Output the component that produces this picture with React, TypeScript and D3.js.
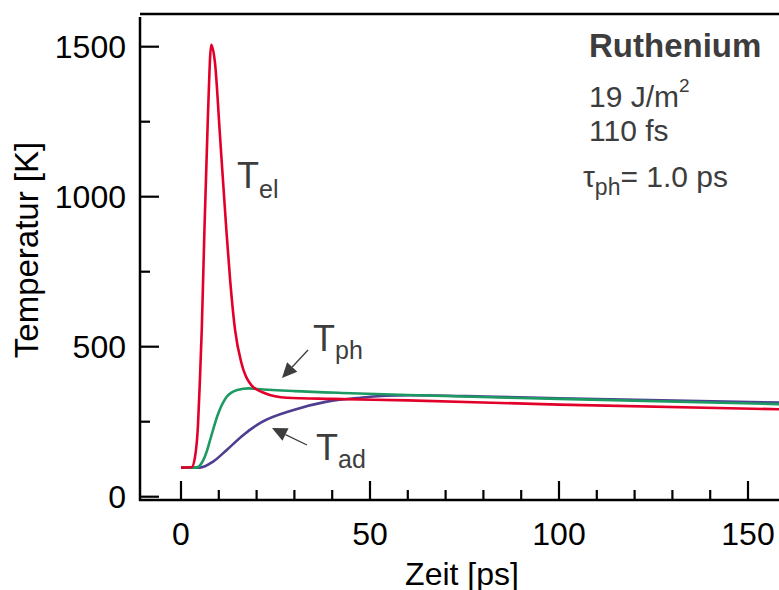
import * as d3 from 'd3'

// Zeit [ps] / Temperatur [K]
const elTime = [0, 2.8, 3.7, 4.5, 5.0, 5.5, 6.2, 7.1, 8.0, 9.0, 10.3, 12.0, 13.0, 14.3, 16.0, 18.6, 22.2, 28, 40, 60, 100, 160]
const elTemp = [97, 98, 132, 240, 389, 560, 889, 1261, 1506, 1445, 1206, 889, 722, 556, 445, 372, 345, 330, 326, 321, 307, 291]

const phTime = [0, 4.0, 5.9, 6.8, 7.7, 9.9, 12.1, 14.9, 18, 20.1, 30, 45, 60, 100, 160]
const phTemp = [97, 97, 122, 150, 189, 279, 333, 356, 361, 359, 352, 345, 339, 326, 308]

const adTime = [0, 5, 8.5, 12.1, 16.5, 21, 29.8, 38.6, 47.4, 60.6, 80, 100, 160]
const adTemp = [97, 97, 117, 156, 206, 246, 289, 317, 330, 338, 334, 328, 313]

const xMajor = [0, 50, 100, 150]
const xMinor = [10, 20, 30, 40, 60, 70, 80, 90, 110, 120, 130, 140]
const yMajor = [0, 500, 1000, 1500]
const yMinor = [250, 750, 1250]

const W = 779
const H = 590
const font = 'Liberation Sans, Arial, sans-serif'
const grey = '#3d3d3d'

export default function App() {
  const x = d3.scaleLinear().domain([0, 150]).range([181, 748])
  const y = d3.scaleLinear().domain([0, 1500]).range([496.7, 46.7])
  const axisX = 140
  const axisY = 500

  const line = d3.line<[number, number]>()
    .x(d => x(d[0]))
    .y(d => y(d[1]))
    .curve(d3.curveMonotoneX)

  const series = [
    { t: adTime, v: adTemp, color: '#4f3d8f' },
    { t: phTime, v: phTemp, color: '#1c9a62' },
    { t: elTime, v: elTemp, color: '#e2002a' },
  ]

  const arrow = (x1: number, y1: number, x2: number, y2: number) => {
    const a = Math.atan2(y2 - y1, x2 - x1)
    const len = 15, half = 7
    const bx = x2 - len * Math.cos(a), by = y2 - len * Math.sin(a)
    const px = -Math.sin(a) * half, py = Math.cos(a) * half
    return (
      <g>
        <line x1={x1} y1={y1} x2={bx} y2={by} stroke={grey} strokeWidth={1.3} />
        <path d={`M${x2},${y2}L${bx + px},${by + py}L${bx - px},${by - py}Z`} fill={grey} />
      </g>
    )
  }

  return (
    <svg width={W} height={H} style={{ position: 'absolute', left: 0, top: 0, background: '#fff' }} fontFamily={font}>
      <defs>
        <clipPath id="plot">
          <rect x={axisX} y={14} width={W - axisX} height={axisY - 14} />
        </clipPath>
      </defs>

      {/* frame */}
      <line x1={axisX} y1={14} x2={W} y2={14} stroke="#000" strokeWidth={2.5} />
      <line x1={axisX} y1={17} x2={axisX} y2={axisY + 1} stroke="#000" strokeWidth={2.5} />
      <line x1={axisX - 1} y1={axisY} x2={W} y2={axisY} stroke="#000" strokeWidth={2.5} />

      {/* y ticks */}
      {yMajor.map(v => (
        <g key={'ym' + v}>
          <line x1={axisX} x2={axisX + 19} y1={y(v)} y2={y(v)} stroke="#000" strokeWidth={2.2} />
          <text x={126} y={y(v)} dy="0.36em" textAnchor="end" fontSize={32}>{v}</text>
        </g>
      ))}
      {yMinor.map(v => (
        <line key={'yn' + v} x1={axisX} x2={axisX + 10} y1={y(v)} y2={y(v)} stroke="#000" strokeWidth={2.2} />
      ))}

      {/* x ticks */}
      {xMajor.map(v => (
        <g key={'xm' + v}>
          <line x1={x(v)} x2={x(v)} y1={axisY} y2={axisY - 19} stroke="#000" strokeWidth={2.2} />
          <text x={x(v)} y={545} textAnchor="middle" fontSize={32}>{v}</text>
        </g>
      ))}
      {xMinor.map(v => (
        <line key={'xn' + v} x1={x(v)} x2={x(v)} y1={axisY} y2={axisY - 10} stroke="#000" strokeWidth={2.2} />
      ))}

      <text x={462} y={585} textAnchor="middle" fontSize={32}>Zeit [ps]</text>
      <text transform="translate(38,250) rotate(-90)" textAnchor="middle" fontSize={33}>Temperatur [K]</text>

      {/* curves */}
      <g clipPath="url(#plot)">
        {series.map((s, i) => (
          <path key={i}
            d={line(s.t.map((t, j) => [t, s.v[j]] as [number, number])) || ''}
            fill="none" stroke={s.color} strokeWidth={2.6} strokeLinejoin="round" />
        ))}
      </g>

      {/* curve labels */}
      <g fill={grey}>
        <text x={237} y={188} fontSize={36}>T<tspan fontSize={25} dy={10}>el</tspan></text>
        <text x={313} y={351} fontSize={36}>T<tspan fontSize={25} dy={8}>ph</tspan></text>
        <text x={316} y={460} fontSize={36}>T<tspan fontSize={25} dy={8}>ad</tspan></text>
      </g>
      {arrow(308, 350, 282, 378)}
      {arrow(307, 445, 272, 428)}

      {/* annotation */}
      <g fill={grey}>
        <text x={589} y={57} fontSize={33} fontWeight="bold">Ruthenium</text>
        <text x={589} y={107} fontSize={30}>19 J/m<tspan fontSize={19} dy={-15}>2</tspan></text>
        <text x={589} y={141} fontSize={30}>110 fs</text>
        <text x={583} y={187} fontSize={30}>τ<tspan fontSize={23} dy={8}>ph</tspan><tspan dy={-8}>= 1.0 ps</tspan></text>
      </g>
    </svg>
  )
}
